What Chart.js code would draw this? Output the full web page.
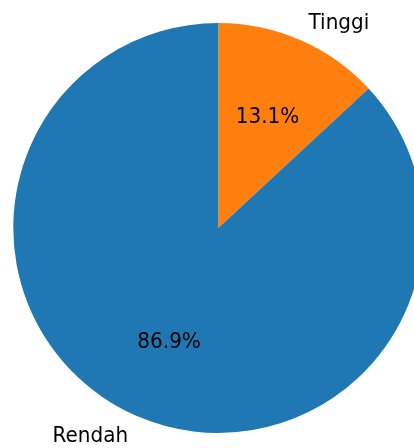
<!DOCTYPE html>
<html>
<head>
<meta charset="utf-8">
<script src="https://cdn.jsdelivr.net/npm/chart.js@4"></script>
<style>
  html, body { margin: 0; padding: 0; background: #fff; overflow: hidden; }
  #wrap { width: 414px; height: 448px; overflow: hidden; position: relative; }
  canvas { position: absolute; left: 0; top: 0; }
</style>
</head>
<body>
<div id="wrap"><canvas id="pieChart" width="440" height="448"></canvas></div>
<script>
// Data: order chosen so Tinggi starts at the top and runs clockwise
const labels = ['Tinggi', 'Rendah'];
const values = [13.1, 86.9];
const colors = ['#ff7f0e', '#1f77b4'];

const FONT_PX = 20;
const STRETCH = 1.07;                    // text in the reference is a bit tall
const CAP_H = 0.729 * FONT_PX * STRETCH; // DejaVu Sans cap height

function drawText(ctx, text, x, y, align) {
    // y is the vertical centre of the capitals
    ctx.save();
    ctx.translate(x, y + CAP_H / 2);
    ctx.scale(1, STRETCH);
    ctx.textAlign = align;
    ctx.textBaseline = 'alphabetic';
    ctx.fillText(text, 0, 0);
    ctx.restore();
}

// Draws the percentage inside each slice and the category name outside it
const pieLabels = {
    id: 'pieLabels',
    afterDatasetsDraw(chart) {
        const ctx = chart.ctx;
        const arcs = chart.getDatasetMeta(0).data;
        const total = values.reduce((a, b) => a + b, 0);
        ctx.save();
        ctx.font = FONT_PX + 'px "DejaVu Sans"';
        ctx.fillStyle = '#000';
        arcs.forEach((arc, i) => {
            const mid = (arc.startAngle + arc.endAngle) / 2;
            const r = arc.outerRadius;
            const cos = Math.cos(mid), sin = Math.sin(mid);
            // percentage at 0.6 radius
            const pct = (values[i] / total * 100).toFixed(1) + '%';
            drawText(ctx, pct, arc.x + cos * r * 0.6, arc.y + sin * r * 0.6, 'center');
            // label at 1.1 radius
            drawText(ctx, labels[i], arc.x + cos * r * 1.1, arc.y + sin * r * 1.1,
                     cos >= 0 ? 'left' : 'right');
        });
        ctx.restore();
    }
};

const ctx = document.getElementById('pieChart').getContext('2d');
const pieChart = new Chart(ctx, {
    type: 'pie',
    data: {
        labels: labels,
        datasets: [{
            data: values,
            backgroundColor: colors,
            borderWidth: 0
        }]
    },
    options: {
        responsive: false,
        animation: false,
        layout: {
            padding: { left: 13.3, right: 16.7, top: 22.9, bottom: 15.1 }
        },
        plugins: {
            legend: { display: false },
            tooltip: { enabled: false }
        }
    },
    plugins: [pieLabels]
});
</script>
</body>
</html>
